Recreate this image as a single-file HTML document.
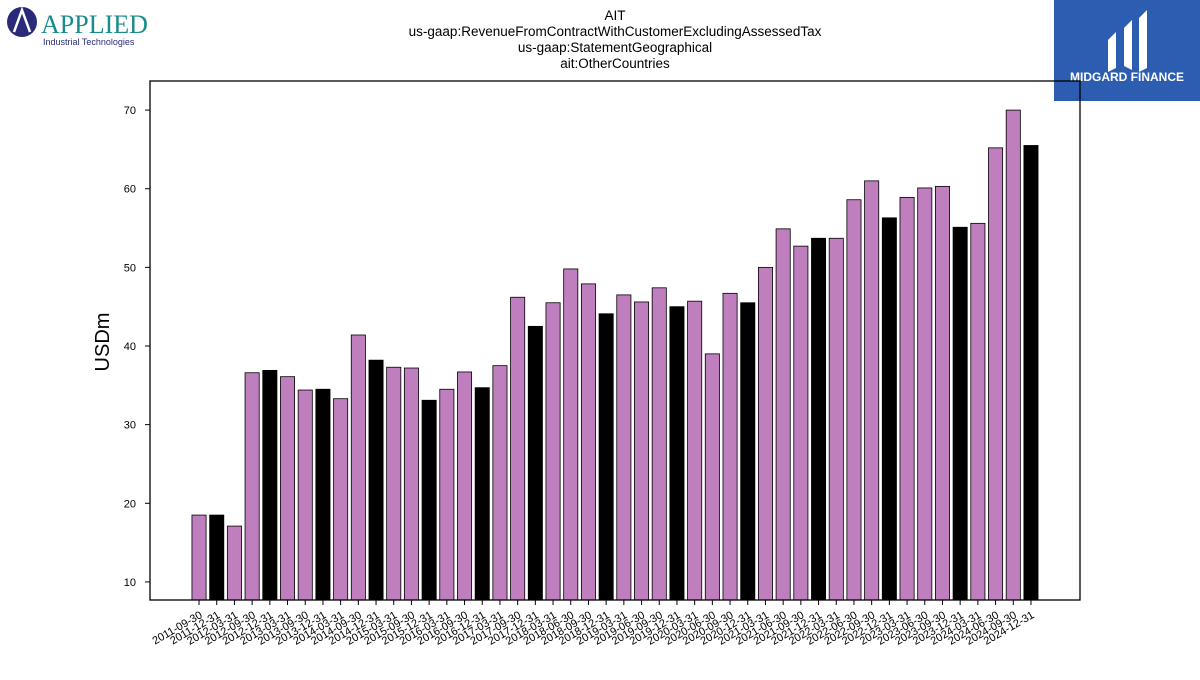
<!DOCTYPE html>
<html><head><meta charset="utf-8"><style>
body{margin:0;background:#fff;width:1200px;height:675px;overflow:hidden;font-family:"Liberation Sans","DejaVu Sans",sans-serif}
</style></head><body>
<svg id="chart" width="1200" height="675" viewBox="0 0 1200 675" xmlns="http://www.w3.org/2000/svg">
<g>
<circle cx="22" cy="22" r="15" fill="#2b2a7a"/>
<path d="M14 32 L22 10 L30 32" stroke="#fff" stroke-width="2.5" fill="none"/>
<text x="41" y="33" font-family="Liberation Serif,serif" font-size="26" fill="#1a8a8a">APPLIED</text>
<text x="43" y="45" font-size="9" fill="#2b2a7a">Industrial Technologies</text>
</g>
<g>
<rect x="1054" y="0" width="146" height="101" fill="#2d5db0"/>
<path d="M1108 40 L1116 32 L1116 68 L1108 72 Z M1124 28 L1132 20 L1132 70 L1124 66 Z M1139 18 L1147 10 L1147 68 L1139 72 Z" fill="#fff"/>
<text x="1127" y="81" text-anchor="middle" font-size="12" font-weight="bold" fill="#fff">MIDGARD FINANCE</text>
</g>
<g font-size="13.5" text-anchor="middle" fill="#000">
<text x="615" y="20">AIT</text>
<text x="615" y="36">us-gaap:RevenueFromContractWithCustomerExcludingAssessedTax</text>
<text x="615" y="52">us-gaap:StatementGeographical</text>
<text x="615" y="68">ait:OtherCountries</text>
</g>
<g id="bars"></g>
<g id="axes"></g>
<text transform="translate(109,342) rotate(-90)" text-anchor="middle" font-size="20">USDm</text>
<rect x="150" y="81" width="930" height="519" fill="none" stroke="#000" stroke-width="1.3"/>
</svg>
<script>
const categories=["2011-09-30","2011-12-31","2012-03-31","2012-09-30","2012-12-31","2013-03-31","2013-09-30","2013-12-31","2014-03-31","2014-09-30","2014-12-31","2015-03-31","2015-09-30","2015-12-31","2016-03-31","2016-09-30","2016-12-31","2017-03-31","2017-09-30","2017-12-31","2018-03-31","2018-06-30","2018-09-30","2018-12-31","2019-03-31","2019-06-30","2019-09-30","2019-12-31","2020-03-31","2020-06-30","2020-09-30","2020-12-31","2021-03-31","2021-06-30","2021-09-30","2021-12-31","2022-03-31","2022-06-30","2022-09-30","2022-12-31","2023-03-31","2023-06-30","2023-09-30","2023-12-31","2024-03-31","2024-06-30","2024-09-30","2024-12-31"];
const values=[18.5,18.5,17.1,36.6,36.9,36.1,34.4,34.5,33.3,41.4,38.2,37.3,37.2,33.1,34.5,36.7,34.7,37.5,46.2,42.5,45.5,49.8,47.9,44.1,46.5,45.6,47.4,45.0,45.7,39.0,46.7,45.5,50.0,54.9,52.7,53.7,53.7,58.6,61.0,56.3,58.9,60.1,60.3,55.1,55.6,65.2,70.0,65.5];
const yTicks=[10,20,30,40,50,60,70];
const NS="http://www.w3.org/2000/svg";
const L=150,R=1080,T=81,B=600,yMin=7.7,yMax=73.7;
const n=categories.length,pad=2.77;
const step=(R-L)/(n-1+2*pad);
const xs=i=>L+(i+pad)*step;
const ys=v=>B-(v-yMin)/(yMax-yMin)*(B-T);
const bars=document.getElementById('bars'),axes=document.getElementById('axes');
function mk(t,a,p){const e=document.createElementNS(NS,t);for(const k in a)e.setAttribute(k,a[k]);p.appendChild(e);return e;}
categories.forEach((c,i)=>{
 const w=step*0.8;
 const r=mk('rect',{x:xs(i)-w/2,y:ys(values[i]),width:w,height:B-ys(values[i]),fill:c.endsWith('12-31')?'#000':'#bf7fbf',stroke:'#000','stroke-width':0.8},bars);
 
 
 const tk=mk('line',{x1:xs(i),x2:xs(i),y1:B,y2:B+5,stroke:'#000'},axes);
 
 
 const t=mk('text',{x:xs(i)+4,y:B+17,'text-anchor':'end','font-size':11,transform:`rotate(-30 ${xs(i)+4} ${B+17})`},axes);
 t.textContent=c;
 
 
});
yTicks.forEach(v=>{
 const tk=mk('line',{x1:L-5,x2:L,y1:ys(v),y2:ys(v),stroke:'#000'},axes);
 
 
 const t=mk('text',{x:L-14,y:ys(v)+4,'text-anchor':'end','font-size':11},axes);
 t.textContent=v;
 
 
});
</script>
</body></html>
